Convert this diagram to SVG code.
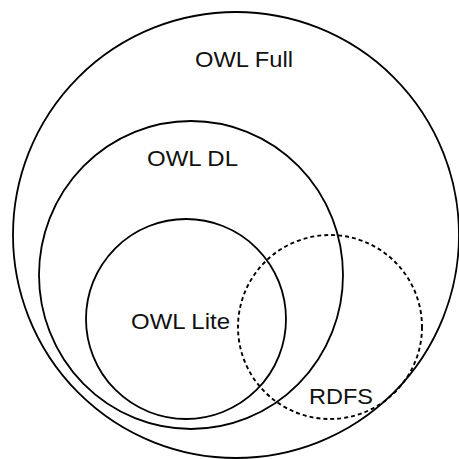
<svg xmlns="http://www.w3.org/2000/svg" width="459" height="459" viewBox="0 0 459 459">
<style>
.set{fill:none;stroke:#000;stroke-width:1.8}
.dash{fill:none;stroke:#000;stroke-width:1.9;stroke-dasharray:4 3}
.lbl{font-family:"Liberation Sans",Arial,sans-serif;font-size:22px;fill:#111;text-anchor:middle}
</style>
<rect width="459" height="459" fill="#fff"/>
<g id="owl-full"><ellipse class="set" cx="236" cy="235" rx="223" ry="223"/><text class="lbl" x="244" y="67" textLength="98" lengthAdjust="spacingAndGlyphs">OWL Full</text></g>
<g id="owl-dl"><ellipse class="set" cx="191" cy="275" rx="152" ry="154"/><text class="lbl" x="192.5" y="166" textLength="91" lengthAdjust="spacingAndGlyphs">OWL DL</text></g>
<g id="owl-lite"><ellipse class="set" cx="186" cy="319" rx="100" ry="100"/><text class="lbl" x="180.5" y="329" textLength="99" lengthAdjust="spacingAndGlyphs">OWL Lite</text></g>
<g id="rdfs"><ellipse class="dash" cx="330" cy="327" rx="92" ry="92"/><text class="lbl" x="341" y="404" textLength="64" lengthAdjust="spacingAndGlyphs">RDFS</text></g>
<g id="connectors"></g>
</svg>
